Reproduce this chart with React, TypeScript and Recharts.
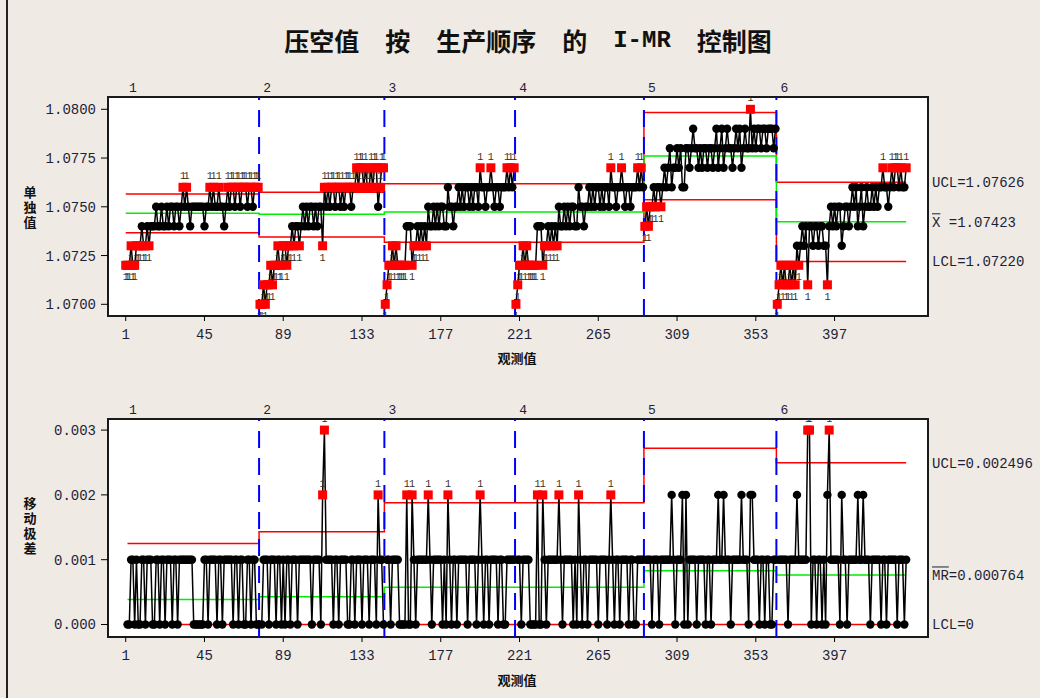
import React from 'react';
import { ComposedChart, Line, XAxis, YAxis, ReferenceLine } from 'recharts';

// ---------------- data ----------------
const stage1 = [
  1.072, 1.072, 1.072, 1.073, 1.072, 1.072, 1.073, 1.073,
  1.073, 1.074, 1.073, 1.073, 1.074, 1.073, 1.074, 1.074,
  1.074, 1.075, 1.074, 1.074, 1.075, 1.074, 1.074, 1.075, 1.074, 1.075, 1.075, 1.074, 1.075, 1.075, 1.074, 1.075,
  1.076, 1.075, 1.076, 1.075, 1.074,
  1.075, 1.075, 1.075, 1.075, 1.075, 1.075, 1.075, 1.074, 1.075, 1.075,
  1.076, 1.075, 1.076, 1.075, 1.075, 1.076, 1.075,
  1.075, 1.074, 1.075,
  1.076, 1.075, 1.076, 1.076, 1.075, 1.076, 1.076, 1.075, 1.076, 1.076, 1.076, 1.075, 1.076, 1.076, 1.075, 1.076, 1.076, 1.076,
];
const stage2 = [
  1.070, 1.070, 1.071, 1.070, 1.071, 1.071,
  1.072, 1.071, 1.072, 1.072, 1.073, 1.072, 1.072, 1.073, 1.073, 1.072,
  1.073, 1.073, 1.074, 1.073, 1.074, 1.074, 1.073, 1.074, 1.075,
  1.074, 1.075, 1.074, 1.075, 1.075, 1.074, 1.075, 1.074, 1.075, 1.075,
  1.073, 1.076,
  1.075, 1.076, 1.075, 1.076, 1.076, 1.075, 1.076, 1.076, 1.075, 1.076, 1.075, 1.076, 1.076, 1.076, 1.075, 1.076, 1.076,
  1.077, 1.076, 1.077, 1.077, 1.076, 1.077, 1.076, 1.076, 1.077, 1.076, 1.077, 1.077, 1.075, 1.076, 1.077, 1.077,
];
const stage3 = [
  1.070, 1.071, 1.072, 1.072, 1.073, 1.072, 1.073, 1.072, 1.072, 1.072, 1.072, 1.072,
  1.074, 1.074, 1.074, 1.072, 1.073, 1.073, 1.074, 1.073, 1.074, 1.073, 1.074, 1.073,
  1.075, 1.074, 1.074, 1.075, 1.074, 1.075, 1.074, 1.075, 1.075, 1.074, 1.074, 1.076,
  1.075, 1.075, 1.074, 1.075, 1.075, 1.076, 1.075, 1.076, 1.075, 1.076, 1.076, 1.075,
  1.076, 1.075, 1.076, 1.076, 1.075, 1.077, 1.076, 1.076, 1.075, 1.076, 1.076, 1.077,
  1.076, 1.075, 1.076, 1.076, 1.075, 1.076, 1.076, 1.076, 1.077, 1.076, 1.077, 1.076,
  1.077,
];
const stage4 = [
  1.070, 1.071, 1.072, 1.072, 1.073, 1.072, 1.073, 1.072, 1.072, 1.072, 1.072, 1.072,
  1.074, 1.074, 1.074, 1.072, 1.073, 1.073, 1.074, 1.073, 1.074, 1.073, 1.074, 1.073,
  1.075, 1.074, 1.074, 1.075, 1.074, 1.075, 1.074, 1.075, 1.075, 1.074, 1.074, 1.076,
  1.075, 1.075, 1.074, 1.075, 1.075, 1.076, 1.075, 1.076, 1.075, 1.076, 1.076, 1.075,
  1.076, 1.075, 1.076, 1.076, 1.075, 1.077, 1.076, 1.076, 1.075, 1.076, 1.076, 1.077,
  1.076, 1.075, 1.076, 1.076, 1.075, 1.076, 1.076, 1.076, 1.077, 1.076, 1.077, 1.076,
];
const stage5 = [
  1.074, 1.075, 1.074, 1.075, 1.075, 1.076, 1.075, 1.076, 1.076, 1.075, 1.076, 1.077,
  1.076, 1.077, 1.078, 1.076, 1.077, 1.077, 1.078, 1.077, 1.078, 1.076, 1.076, 1.078,
  1.078, 1.077, 1.078, 1.079, 1.078, 1.078, 1.077, 1.078, 1.077, 1.078, 1.078, 1.077,
  1.078, 1.078, 1.077, 1.078, 1.079, 1.077, 1.078, 1.079, 1.077, 1.078, 1.079, 1.078,
  1.078, 1.077, 1.078, 1.079, 1.078, 1.079, 1.077, 1.078, 1.079, 1.078, 1.078, 1.080, 1.078, 1.079,
  1.078, 1.079, 1.079, 1.078, 1.079, 1.079, 1.078, 1.079, 1.079, 1.079, 1.078, 1.079,
];
const stage6 = [
  1.070, 1.071, 1.072, 1.071, 1.072, 1.071, 1.071, 1.072, 1.071, 1.072, 1.071, 1.073,
  1.072, 1.073, 1.074, 1.073, 1.074, 1.071, 1.074, 1.074, 1.073, 1.074, 1.074, 1.073,
  1.074, 1.074, 1.073, 1.073, 1.071, 1.074, 1.075, 1.074, 1.075, 1.074, 1.075, 1.075,
  1.073, 1.074, 1.075, 1.075, 1.074, 1.075, 1.076, 1.075, 1.076, 1.074, 1.075, 1.076,
  1.074, 1.075, 1.076, 1.075, 1.075, 1.076, 1.075, 1.076, 1.075, 1.076, 1.076, 1.077,
  1.076, 1.076, 1.075, 1.076, 1.077, 1.076, 1.077, 1.077, 1.076, 1.077, 1.076, 1.076, 1.077,
];

const stageNames = ['1', '2', '3', '4', '5', '6'];
const iCenter = [1.07467, 1.07462, 1.07473, 1.07473, 1.07761, 1.07423];
const iUCL = [1.07566, 1.07575, 1.07618, 1.07618, 1.07984, 1.07626];
const iLCL = [1.07367, 1.07345, 1.07318, 1.07318, 1.07536, 1.0722];
const mrCenter = [0.000385, 0.00043, 0.000574, 0.000574, 0.00083, 0.000764];
const mrUCL = [0.00125, 0.00143, 0.00188, 0.00188, 0.00272, 0.002496];
const mrLCL = 0;

const xTicks = [1, 45, 89, 133, 177, 221, 265, 309, 353, 397];
const iTicks = [1.07, 1.0725, 1.075, 1.0775, 1.08];
const mrTicks = [0, 0.001, 0.002, 0.003];

const titleWords = ['压空值', '按', '生产顺序', '的', 'I-MR', '控制图'];
const iAxisTitle = '单独值';
const mrAxisTitle = '移动极差';
const xAxisTitle = '观测值';

// ---------------- derived tables ----------------
const stageValues = [stage1, stage2, stage3, stage4, stage5, stage6];
const stageStarts: number[] = [];
const rows: any[] = [];
let obsCounter = 1;
stageValues.forEach((vals, s) => {
  stageStarts.push(obsCounter);
  if (s > 0) rows.push({ x: obsCounter - 0.5, i: null, mr: null, stage: s });
  vals.forEach((v, k) => {
    rows.push({
      x: obsCounter,
      i: v,
      mr: k === 0 ? null : Math.round(Math.abs(v - vals[k - 1]) * 1e6) / 1e6,
      stage: s,
    });
    obsCounter++;
  });
});
const lastObs = obsCounter - 1;

function limitData(levels: number[], isMR: boolean) {
  const pts: { x: number; y: number }[] = [];
  levels.forEach((lv, s) => {
    const start = stageStarts[s];
    const end = s < levels.length - 1 ? stageStarts[s + 1] - 1 : lastObs;
    const x0 = s === 0 ? (isMR ? start + 1 : start) : start - 0.5;
    const x1 = s === levels.length - 1 ? end : end + 0.5;
    pts.push({ x: x0, y: lv }, { x: x1, y: lv });
  });
  return pts;
}
const mrLclData = [{ x: 2, y: mrLCL }, { x: lastObs, y: mrLCL }];

// ---------------- styling ----------------
const BG = '#efebe4';
const MONO = "'Liberation Mono', 'DejaVu Sans Mono', monospace";
const CJK = "'Noto Sans CJK SC', 'Noto Sans', sans-serif";
const TXT = '#1e1e38';
const X_DOMAIN: [number, number] = [-8.9, 449.2];
const PLOT_LEFT = 108;
const PLOT_RIGHT = 928;

const makeDot = (kind: 'i' | 'mr') => (props: any) => {
  const { cx, cy, payload, index } = props;
  if (cx == null || cy == null || !payload || payload[kind] == null) return <g key={`e${kind}${index}`} />;
  const s = payload.stage;
  const v = payload[kind];
  let status = 0;
  if (kind === 'i') {
    if (v > iUCL[s]) status = 1;
    else if (v < iLCL[s]) status = -1;
  } else if (v > mrUCL[s]) status = 1;
  if (status === 0) return <circle key={`d${kind}${index}`} cx={cx} cy={cy} r={4.2} fill="#000" />;
  return (
    <g key={`d${kind}${index}`}>
      <rect x={cx - 4.5} y={cy - 4.5} width={9} height={9} fill="#ff0000" />
      <text x={cx} y={status > 0 ? cy - 8 : cy + 15} textAnchor="middle" fontSize={10} fontFamily={MONO} fill="#3a3020">
        1
      </text>
    </g>
  );
};

const stageLabel = (name: string) => (props: any) => {
  const vb = props.viewBox || {};
  return (
    <text x={(vb.x || 0) + 8} y={(vb.y || 0) - 5} textAnchor="middle" fontSize={13} fontFamily={MONO} fill={TXT}>
      {name}
    </text>
  );
};

const rightLabel = (text: string, barChars: number) => (props: any) => {
  const vb = props.viewBox || {};
  const x = (vb.x || 0) + (vb.width || 0) + 4;
  const y = (vb.y || 0) + 5;
  const cw = 8.4;
  return (
    <g>
      {barChars > 0 && <line x1={x} x2={x + cw * barChars} y1={y - 13} y2={y - 13} stroke={TXT} strokeWidth={1} />}
      <text x={x} y={y} fontSize={14} fontFamily={MONO} fill={TXT}>
        {text}
      </text>
    </g>
  );
};

const tickStyle = { fontSize: 14, fontFamily: MONO, fill: TXT };

function PlotBox({ top, height }: { top: number; height: number }) {
  return (
    <div
      style={{
        position: 'absolute',
        left: PLOT_LEFT - 1,
        top: top - 1,
        width: PLOT_RIGHT - PLOT_LEFT + 2,
        height: height + 2,
        boxSizing: 'border-box',
        border: '2px solid #1a1a1a',
        background: '#fff',
      }}
    />
  );
}

function VerticalTitle({ text, cx, cy }: { text: string; cx: number; cy: number }) {
  const lh = 15;
  return (
    <div
      style={{
        position: 'absolute',
        left: cx - 8,
        top: cy - (text.length * lh) / 2,
        width: 16,
        lineHeight: `${lh}px`,
        fontSize: 13,
        fontWeight: 700,
        fontFamily: CJK,
        color: '#111',
        textAlign: 'center',
        wordBreak: 'break-all',
      }}
    >
      {text}
    </div>
  );
}

function CenterText({ text, cx, cy, size }: { text: string; cx: number; cy: number; size: number }) {
  return (
    <div
      style={{
        position: 'absolute',
        left: cx,
        top: cy,
        transform: 'translate(-50%, -50%)',
        whiteSpace: 'pre',
        fontSize: size,
        fontWeight: 700,
        fontFamily: CJK,
        color: '#111',
        lineHeight: 1,
      }}
    >
      {text}
    </div>
  );
}

function Title() {
  return (
    <div
      style={{
        position: 'absolute',
        left: 528,
        top: 40,
        transform: 'translate(-50%, -50%)',
        whiteSpace: 'nowrap',
        fontSize: 25,
        fontWeight: 700,
        fontFamily: CJK,
        color: '#111',
        lineHeight: 1,
        display: 'flex',
        alignItems: 'center',
        gap: 26,
      }}
    >
      {titleWords.map((w) => (
        <span key={w} style={w === 'I-MR' ? { fontFamily: MONO, fontSize: 24 } : undefined}>
          {w}
        </span>
      ))}
    </div>
  );
}

export default function App() {
  const iChartH = 380;
  const mrChartTop = 330;
  const mrChartH = 368;

  return (
    <div style={{ position: 'fixed', left: 0, top: 0, width: 1040, height: 698, background: BG, overflow: 'hidden' }}>
      <div style={{ position: 'absolute', left: 6, top: 0, width: 2, height: 698, background: '#222' }} />
      <Title />

      {/* I chart */}
      <PlotBox top={97} height={219} />
      <div style={{ position: 'absolute', left: 0, top: 0 }}>
        <ComposedChart
          width={1040}
          height={iChartH}
          data={rows}
          margin={{ top: 97, right: 1040 - PLOT_RIGHT, bottom: 34, left: 8 }}
        >
          <XAxis
            type="number"
            dataKey="x"
            domain={X_DOMAIN}
            ticks={xTicks}
            allowDataOverflow
            axisLine={false}
            tickSize={5}
            tickMargin={8}
            tick={tickStyle}
            tickLine={{ stroke: '#000' }}
            height={30}
          />
          <YAxis
            type="number"
            domain={[1.0694, 1.08063]}
            ticks={iTicks}
            allowDataOverflow
            axisLine={false}
            tickSize={7}
            tickMargin={5}
            tick={tickStyle}
            tickLine={{ stroke: '#000' }}
            tickFormatter={(v: number) => v.toFixed(4)}
            width={100}
          />
          <Line data={limitData(iUCL, false)} dataKey="y" stroke="#ff0000" strokeWidth={1.5} dot={false} activeDot={false} isAnimationActive={false} />
          <Line data={limitData(iLCL, false)} dataKey="y" stroke="#ff0000" strokeWidth={1.5} dot={false} activeDot={false} isAnimationActive={false} />
          <Line data={limitData(iCenter, false)} dataKey="y" stroke="#00ee00" strokeWidth={1.5} dot={false} activeDot={false} isAnimationActive={false} />
          <Line data={rows} dataKey="i" stroke="#000" strokeWidth={1.5} dot={makeDot('i')} activeDot={false} isAnimationActive={false} connectNulls={false} />
          {stageStarts.slice(1).map((st) => (
            <ReferenceLine key={`b${st}`} x={st - 0.5} stroke="#0000ff" strokeWidth={2} strokeDasharray="17 10" />
          ))}
          {stageStarts.map((st, s) => (
            <ReferenceLine key={`l${st}`} x={st - 0.5} stroke="none" label={{ content: stageLabel(stageNames[s]) } as any} />
          ))}
          <ReferenceLine y={iUCL[5]} stroke="none" label={{ content: rightLabel(`UCL=${iUCL[5].toFixed(5)}`, 0) } as any} />
          <ReferenceLine y={iCenter[5]} stroke="none" label={{ content: rightLabel(`X =${iCenter[5].toFixed(5)}`, 1) } as any} />
          <ReferenceLine y={iLCL[5]} stroke="none" label={{ content: rightLabel(`LCL=${iLCL[5].toFixed(5)}`, 0) } as any} />
        </ComposedChart>
      </div>
      <VerticalTitle text={iAxisTitle} cx={30} cy={206} />
      <CenterText text={xAxisTitle} cx={517} cy={357} size={13} />

      {/* MR chart */}
      <PlotBox top={419} height={218} />
      <div style={{ position: 'absolute', left: 0, top: mrChartTop }}>
        <ComposedChart
          width={1040}
          height={mrChartH}
          data={rows}
          margin={{ top: 419 - mrChartTop, right: 1040 - PLOT_RIGHT, bottom: 31, left: 8 }}
        >
          <XAxis
            type="number"
            dataKey="x"
            domain={X_DOMAIN}
            ticks={xTicks}
            allowDataOverflow
            axisLine={false}
            tickSize={5}
            tickMargin={8}
            tick={tickStyle}
            tickLine={{ stroke: '#000' }}
            height={30}
          />
          <YAxis
            type="number"
            domain={[-0.000193, 0.003171]}
            ticks={mrTicks}
            allowDataOverflow
            axisLine={false}
            tickSize={7}
            tickMargin={5}
            tick={tickStyle}
            tickLine={{ stroke: '#000' }}
            tickFormatter={(v: number) => v.toFixed(3)}
            width={100}
          />
          <Line data={mrLclData} dataKey="y" stroke="#ff0000" strokeWidth={1.5} dot={false} activeDot={false} isAnimationActive={false} />
          <Line data={limitData(mrUCL, true)} dataKey="y" stroke="#ff0000" strokeWidth={1.5} dot={false} activeDot={false} isAnimationActive={false} />
          <Line data={limitData(mrCenter, true)} dataKey="y" stroke="#00ee00" strokeWidth={1.5} dot={false} activeDot={false} isAnimationActive={false} />
          <Line data={rows} dataKey="mr" stroke="#000" strokeWidth={1.5} dot={makeDot('mr')} activeDot={false} isAnimationActive={false} connectNulls={false} />
          {stageStarts.slice(1).map((st) => (
            <ReferenceLine key={`mb${st}`} x={st - 0.5} stroke="#0000ff" strokeWidth={2} strokeDasharray="17 10" />
          ))}
          {stageStarts.map((st, s) => (
            <ReferenceLine key={`ml${st}`} x={st - 0.5} stroke="none" label={{ content: stageLabel(stageNames[s]) } as any} />
          ))}
          <ReferenceLine y={mrUCL[5]} stroke="none" label={{ content: rightLabel(`UCL=${mrUCL[5].toFixed(6)}`, 0) } as any} />
          <ReferenceLine y={mrCenter[5]} stroke="none" label={{ content: rightLabel(`MR=${mrCenter[5].toFixed(6)}`, 2) } as any} />
          <ReferenceLine y={mrLCL} stroke="none" label={{ content: rightLabel(`LCL=${mrLCL}`, 0) } as any} />
        </ComposedChart>
      </div>
      <VerticalTitle text={mrAxisTitle} cx={30} cy={525} />
      <CenterText text={xAxisTitle} cx={517} cy={679} size={13} />
    </div>
  );
}
